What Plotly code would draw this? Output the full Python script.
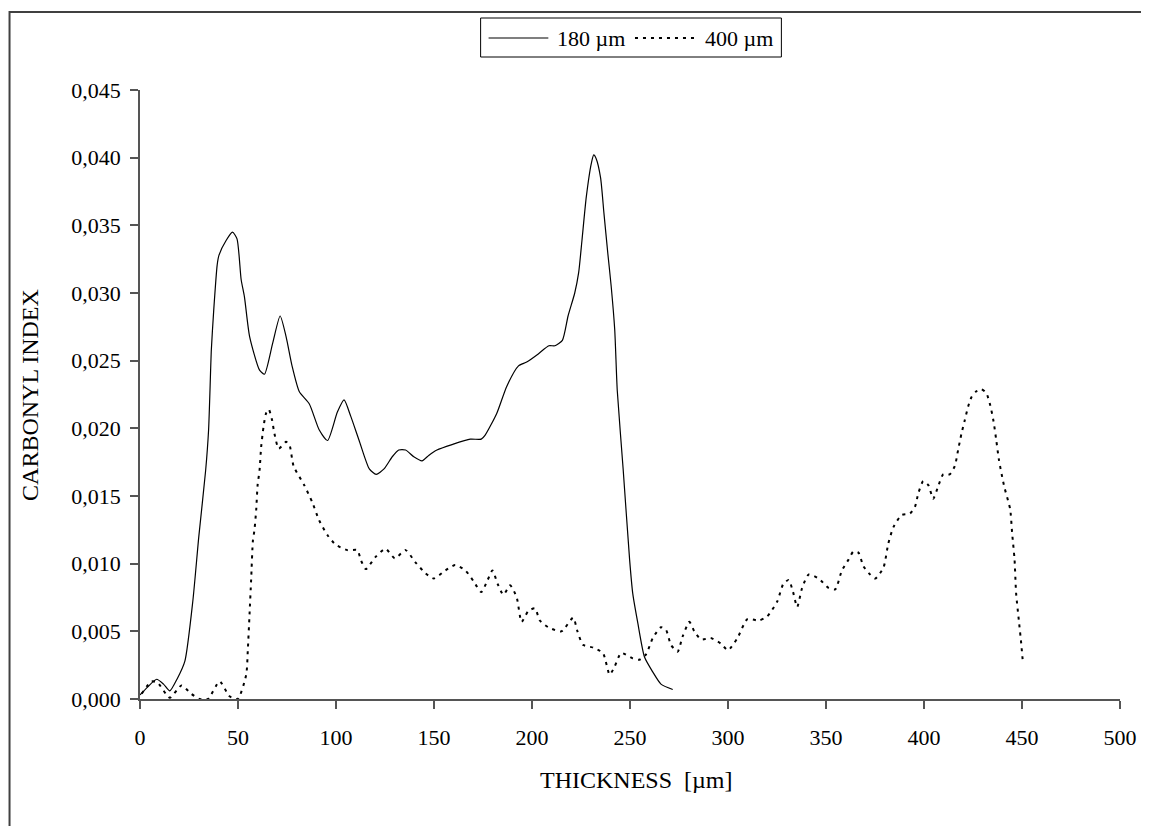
import plotly.graph_objects as go

# 180 um film
thickness_180 = [0, 4, 8.5, 12, 15.2, 19, 22.9, 27, 30, 33.5,
                 35, 36.4, 37.6, 39.4, 40.3, 44, 47.2, 49.5, 51.6, 53.3,
                 55.9, 61, 63.5, 67.7, 71.5, 74.5, 77.6, 81.3, 86.4, 91.4,
                 95.7, 100.7, 104.1, 107.5, 111.8, 117, 120.5, 124.5, 128.7, 132,
                 135.5, 139.7, 143.9, 147.3, 151.5, 159.2, 168.5, 174.1, 176.1, 182,
                 187.1, 193, 197.3, 203.2, 208.6, 211.7, 215.5, 218.4, 221.8, 223.8,
                 225.5, 227.7, 230.3, 231.5, 232.8, 235, 236.7, 238.7, 240.4, 242.2,
                 243.5, 246.5, 249.8, 251.4, 254, 257.4, 261.6, 265.8, 271.8]
carbonyl_180 = [0.0003, 0.0009, 0.00146, 0.0011, 0.0006, 0.0015, 0.0028, 0.0073, 0.0120, 0.0169,
                0.0199, 0.0258, 0.0287, 0.0321, 0.0328, 0.0339, 0.0345, 0.0340, 0.0310, 0.0297,
                0.0268, 0.0243, 0.0240, 0.0263, 0.0283, 0.0268, 0.0246, 0.0227, 0.0218, 0.0199,
                0.0191, 0.0212, 0.0221, 0.0209, 0.0191, 0.0170, 0.0166, 0.0170, 0.0179, 0.0184,
                0.0184, 0.0179, 0.0176, 0.0180, 0.0184, 0.0188, 0.0192, 0.0192, 0.0195, 0.0211,
                0.0231, 0.0246, 0.0249, 0.0255, 0.0261, 0.0261, 0.0265, 0.0283, 0.0300, 0.0315,
                0.0339, 0.0371, 0.0396, 0.0402, 0.0399, 0.0385, 0.0359, 0.0329, 0.0305, 0.0273,
                0.0228, 0.0170, 0.0103, 0.0078, 0.0056, 0.0031, 0.0020, 0.0011, 0.0007]

# 400 um film
thickness_400 = [0.9, 5.9, 9, 15.2, 21.2, 26, 30.5, 34.7, 40.6, 45.7,
                 49.9, 54.2, 55, 55.9, 56.7, 57.6, 58.4, 59.3, 60, 61,
                 61.8, 63, 64.3, 65.7, 67.4, 68.6, 70.8, 74.5, 76.2, 78.4,
                 83.8, 88, 91.4, 95.7, 99.9, 105.8, 110.9, 112.6, 115.2, 120.2,
                 125.3, 130, 135.5, 140.5, 145.6, 149.9, 155.8, 160.8, 166, 170.2,
                 174.1, 177.4, 179.8, 182.5, 185.4, 188.8, 192.2, 194.7, 198.1, 201.5,
                 204, 208.3, 215, 221, 223.2, 226, 231.1, 236.2, 239.6, 242.2,
                 245.5, 251.4, 254.8, 258.2, 261.6, 265.8, 268.4, 270.9, 274.3, 276.8,
                 280.3, 282.8, 286.2, 291.2, 296.3, 300, 304.8, 309.9, 315.8, 320,
                 325.1, 328.2, 331, 333.2, 335.3, 337.8, 341.2, 346.3, 351.4, 354.7,
                 358.1, 361.5, 364, 366.6, 369.1, 372.5, 375.1, 379.3, 381.8, 384.4,
                 388.6, 392.8, 395.4, 397.1, 399.6, 402.2, 404.7, 407.2, 409.8, 413.1,
                 415.7, 417.4, 419.1, 420.8, 422.5, 424.2, 426.4, 429.2, 431.8, 433.8,
                 435.5, 436.9, 438.2, 439.9, 441.1, 442.8, 444, 445, 446.2, 447,
                 448.4, 449.6, 450.4]
carbonyl_400 = [0.0004, 0.0013, 0.0012, 0.0001, 0.0010, 0.0004, 0.0000, 0.0000, 0.0013, 0.0002,
                0.0000, 0.0018, 0.0036, 0.0063, 0.0088, 0.0117, 0.0125, 0.0140, 0.0158, 0.0169,
                0.0186, 0.0201, 0.0211, 0.0214, 0.0206, 0.0196, 0.0185, 0.0190, 0.0188, 0.0172,
                0.0158, 0.0145, 0.0132, 0.0121, 0.0114, 0.0110, 0.0110, 0.0103, 0.0096, 0.0105,
                0.0111, 0.0104, 0.0110, 0.0101, 0.0093, 0.0089, 0.0095, 0.0099, 0.0095, 0.0087,
                0.0079, 0.0088, 0.0095, 0.0085, 0.0077, 0.0084, 0.0075, 0.0057, 0.0065, 0.0067,
                0.0058, 0.0053, 0.0050, 0.0060, 0.0050, 0.0040, 0.0038, 0.0034, 0.0018, 0.0024,
                0.0034, 0.0030, 0.0029, 0.0033, 0.0045, 0.0053, 0.0051, 0.0040, 0.0035, 0.0046,
                0.0057, 0.0050, 0.0044, 0.0045, 0.0041, 0.0036, 0.0045, 0.0059, 0.0058, 0.0061,
                0.0072, 0.0085, 0.0088, 0.0079, 0.0068, 0.0082, 0.0092, 0.0089, 0.0082, 0.0081,
                0.0095, 0.0103, 0.0109, 0.0108, 0.0098, 0.0092, 0.0089, 0.0097, 0.0115, 0.0127,
                0.0136, 0.0137, 0.0142, 0.0152, 0.0161, 0.0158, 0.0148, 0.0157, 0.0166, 0.0166,
                0.0172, 0.0184, 0.0196, 0.0206, 0.0216, 0.0223, 0.0227, 0.0229, 0.0226, 0.0217,
                0.0205, 0.0191, 0.0177, 0.0164, 0.0156, 0.0147, 0.0140, 0.0122, 0.0103, 0.0078,
                0.0058, 0.0041, 0.0028]

x_ticks = [0, 50, 100, 150, 200, 250, 300, 350, 400, 450, 500]
series_names = ["180 µm", "400 µm"]

font = "Liberation Serif, Times New Roman, serif"
solid_line = dict(color="black", width=1.2, shape="spline", smoothing=0.6)
dot_line = dict(color="black", width=2, dash="3px,5px", shape="spline", smoothing=0.6)

fig = go.Figure()

fig.add_trace(go.Scatter(x=thickness_180, y=carbonyl_180, mode="lines",
                         name=series_names[0], line=solid_line))
fig.add_trace(go.Scatter(x=thickness_400, y=carbonyl_400, mode="lines",
                         name=series_names[1], line=dot_line))

# plot area is 984 x 609 px; helpers to place things in pixels of the page
def px_x(p):
    return (p - 140) / 984

def px_y(p):
    return (699 - p) / 609

# outer chart frame (runs off the right and bottom of the picture)
fig.add_shape(type="rect", xref="paper", yref="paper",
              x0=px_x(9), x1=px_x(1160), y0=px_y(840), y1=px_y(12),
              line=dict(color="#404040", width=2))

# legend drawn by hand so the sample lines are as long as in the original
fig.add_shape(type="rect", xref="paper", yref="paper",
              x0=px_x(482), x1=px_x(784), y0=px_y(57), y1=px_y(18),
              line=dict(color="black", width=1), fillcolor="white")
fig.add_shape(type="line", xref="paper", yref="paper",
              x0=px_x(490), x1=px_x(550), y0=px_y(38), y1=px_y(38),
              line=dict(color="black", width=1.2))
fig.add_shape(type="line", xref="paper", yref="paper",
              x0=px_x(637), x1=px_x(698), y0=px_y(38), y1=px_y(38),
              line=dict(color="black", width=2, dash="3px,5px"))
fig.add_annotation(text=series_names[0], xref="paper", yref="paper",
                   x=px_x(557), y=px_y(38), xanchor="left", yanchor="middle",
                   showarrow=False, font=dict(family=font, size=22, color="black"))
fig.add_annotation(text=series_names[1], xref="paper", yref="paper",
                   x=px_x(705), y=px_y(38), xanchor="left", yanchor="middle",
                   showarrow=False, font=dict(family=font, size=22, color="black"))

# axis titles
fig.add_annotation(text="THICKNESS\u00a0\u00a0[µm]", xref="paper", yref="paper",
                   x=px_x(639), y=px_y(780), showarrow=False, yanchor="middle",
                   font=dict(family=font, size=24, color="black"))
fig.add_annotation(text="CARBONYL INDEX", xref="paper", yref="paper",
                   x=px_x(29), y=0.5, showarrow=False, textangle=-90, xanchor="center",
                   font=dict(family=font, size=24, color="black"))

# page body has an 8 px margin, so the figure is shifted by 8 px
fig.update_layout(
    width=1141, height=818,
    margin=dict(l=132, r=25, t=82, b=127),
    paper_bgcolor="white", plot_bgcolor="white",
    separators=", ",
    font=dict(family=font, size=22, color="black"),
    showlegend=False,
)

fig.update_xaxes(range=[0, 500], tickvals=x_ticks, showgrid=False, zeroline=False,
                 showline=True, linecolor="#555555", linewidth=1.5,
                 ticks="outside", ticklen=8, tickcolor="#555555", tickwidth=1.5,
                 ticklabelstandoff=10)
fig.update_yaxes(range=[0, 0.045], dtick=0.005, tickformat=".3f", showgrid=False,
                 zeroline=False, showline=True, linecolor="#555555", linewidth=1.5,
                 ticks="outside", ticklen=8, tickcolor="#555555", tickwidth=1.5,
                 ticklabelstandoff=5)

fig.write_html("out.html")
